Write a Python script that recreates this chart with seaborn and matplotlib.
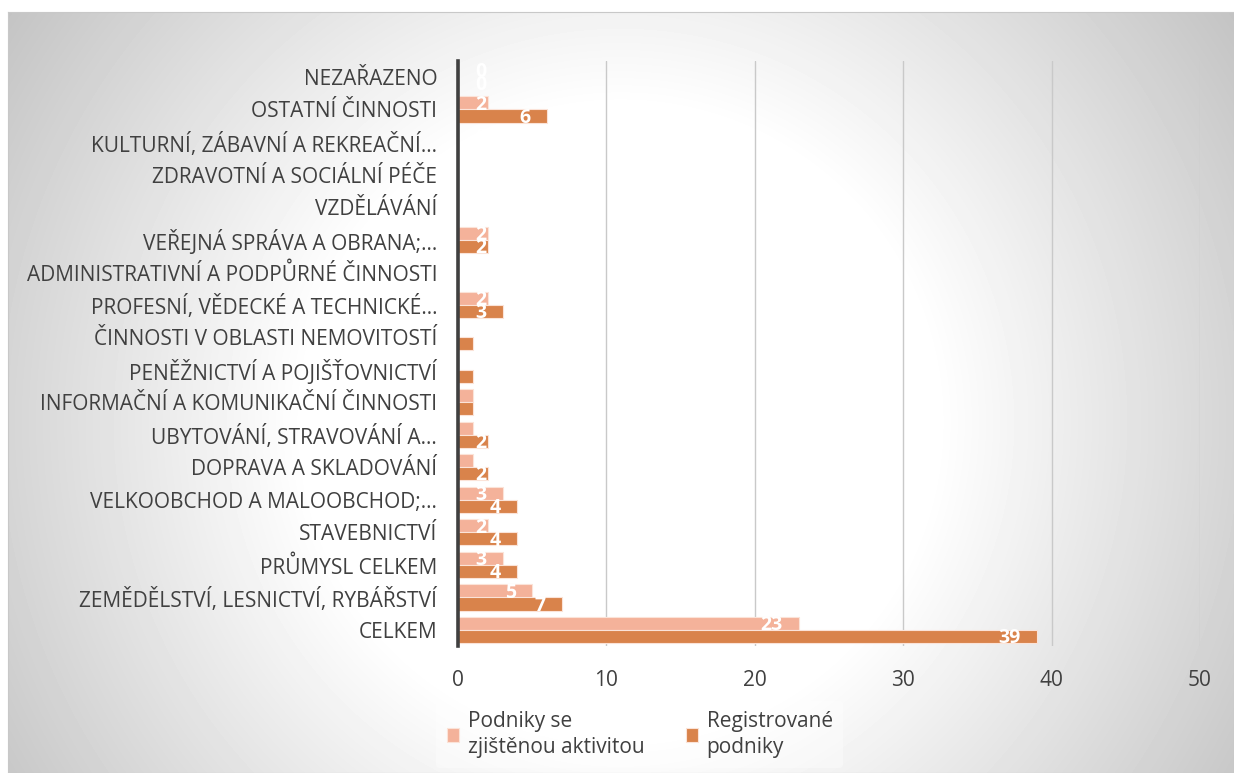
import numpy as np
import pandas as pd
import matplotlib
matplotlib.use("Agg")
import matplotlib.pyplot as plt
import seaborn as sns

# categories from top to bottom
categories = [
    "NEZAŘAZENO",
    "OSTATNÍ ČINNOSTI",
    "KULTURNÍ, ZÁBAVNÍ A REKREAČNÍ…",
    "ZDRAVOTNÍ A SOCIÁLNÍ PÉČE",
    "VZDĚLÁVÁNÍ",
    "VEŘEJNÁ SPRÁVA A OBRANA;…",
    "ADMINISTRATIVNÍ A PODPŮRNÉ ČINNOSTI",
    "PROFESNÍ, VĚDECKÉ A TECHNICKÉ…",
    "ČINNOSTI V OBLASTI NEMOVITOSTÍ",
    "PENĚŽNICTVÍ A POJIŠŤOVNICTVÍ",
    "INFORMAČNÍ A KOMUNIKAČNÍ ČINNOSTI",
    "UBYTOVÁNÍ, STRAVOVÁNÍ A…",
    "DOPRAVA A SKLADOVÁNÍ",
    "VELKOOBCHOD A MALOOBCHOD;…",
    "STAVEBNICTVÍ",
    "PRŮMYSL CELKEM",
    "ZEMĚDĚLSTVÍ, LESNICTVÍ, RYBÁŘSTVÍ",
    "CELKEM",
]
aktivni = [0, 2, 0, 0, 0, 2, 0, 2, 0, 0, 1, 1, 1, 3, 2, 3, 5, 23]
registrovane = [0, 6, 0, 0, 0, 2, 0, 3, 1, 1, 1, 2, 2, 4, 4, 4, 7, 39]
series = ["Podniky se\nzjištěnou aktivitou", "Registrované\npodniky"]
colors = ["#F4B29A", "#D9834B"]
xticks = [0, 10, 20, 30, 40, 50]

df = pd.DataFrame({
    "kategorie": categories * 2,
    "serie": [series[0]] * len(categories) + [series[1]] * len(categories),
    "pocet": aktivni + registrovane,
})

sns.set_style("white")
plt.rcParams["font.family"] = ["Open Sans", "DejaVu Sans"]
txt = "#404040"
fs = 15

fig = plt.figure(figsize=(12.34, 7.73), dpi=100)
fig.patch.set_facecolor("white")

# radial gradient background of the chart area
bg = fig.add_axes([8 / 1234, 0, 1 - 8 / 1234, 1 - 12 / 773], zorder=-10)
W, H = 1226, 761
yy, xx = np.mgrid[0:H, 0:W]
r = np.hypot(xx - 612, yy - 410)
val = (255 - 0.141 * np.clip(r - 316, 0, None)) / 255
bg.imshow(val, cmap="gray", vmin=0, vmax=1, aspect="auto", interpolation="bilinear")
bg.set_xticks([])
bg.set_yticks([])
for s in bg.spines.values():
    s.set_color("#C8C8C8")

ax = fig.add_axes([458 / 1234, 1 - 646.3 / 773, 742 / 1234, 585.6 / 773])
ax.set_facecolor("none")
sns.barplot(data=df, y="kategorie", x="pocet", hue="serie", order=categories,
            hue_order=series, palette=colors, saturation=1, width=0.8,
            orient="h", edgecolor="#FBE3D8", linewidth=0.8, ax=ax)

# data labels (labels of 1 are hidden on the white background in the original)
for cont, vals in zip(ax.containers, [aktivni, registrovane]):
    for bar, v in zip(cont, vals):
        if v == 1:
            continue
        ax.text(max(v - 1.1, 1.89), bar.get_y() + bar.get_height() / 2 + 0.05,
                str(v), ha="right", va="center", color="white", fontsize=14,
                fontweight="bold")

ax.set_xlim(0, 50)
ax.set_xticks(xticks)
ax.xaxis.grid(True, color="#C9C9C9", linewidth=1)
ax.set_axisbelow(True)
ax.set_xlabel("")
ax.set_ylabel("")
for s in ["top", "right", "bottom"]:
    ax.spines[s].set_visible(False)
ax.spines["left"].set_color("#404040")
ax.spines["left"].set_linewidth(2.6)
ax.tick_params(axis="y", length=0, pad=15, labelsize=fs, labelcolor=txt)
ax.tick_params(axis="x", length=0, pad=17, labelsize=fs, labelcolor=txt)

leg = ax.legend(loc="upper center", bbox_to_anchor=(0.245, -0.075), ncol=2,
                fontsize=fs, frameon=True, handlelength=0.6, handleheight=0.6,
                columnspacing=2.0, handletextpad=0.4, borderpad=0.5)
leg.get_frame().set_facecolor("white")
leg.get_frame().set_alpha(0.35)
leg.get_frame().set_edgecolor("none")
for t in leg.get_texts():
    t.set_color(txt)
    t.set_linespacing(1.3)

fig.savefig("out.png", dpi=100)
